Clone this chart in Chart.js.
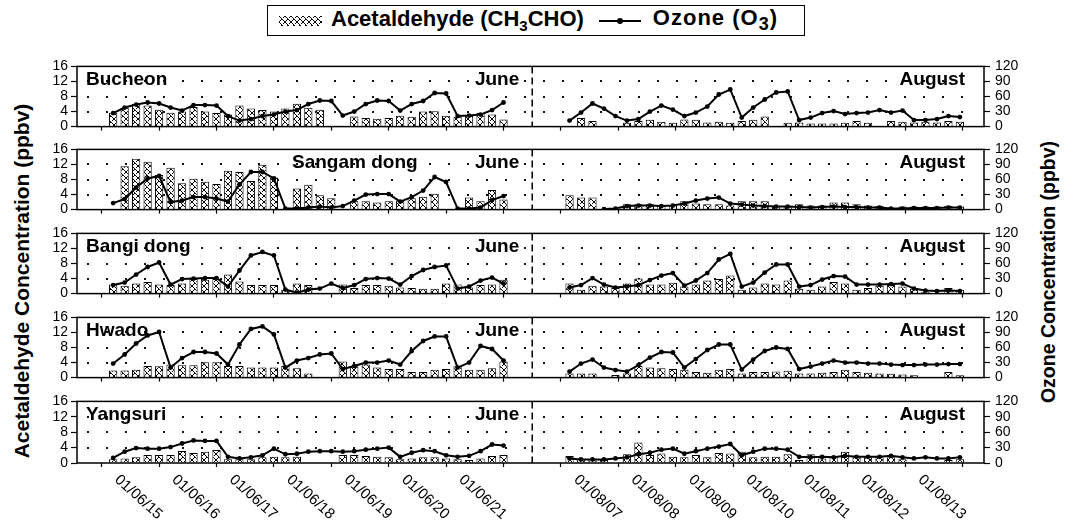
<!DOCTYPE html>
<html lang="en">
<head>
<meta charset="UTF-8">
<title>Acetaldehyde and Ozone</title>
<script src="https://cdn.jsdelivr.net/npm/chart.js"></script>
<style>
  body { margin: 0; width: 1070px; height: 526px; background: #fff; position: relative; overflow: hidden;
         font-family: Arial, "Liberation Sans", sans-serif; color: #000; }
  canvas.panel { position: absolute; left: 0; }
  #legend { position: absolute; left: 267px; top: 5px; width: 538px; height: 31px; border: 1.5px solid #000;
            box-sizing: border-box; display: flex; align-items: center; font-weight: bold; font-size: 22px; white-space: nowrap; }
  #legend sub { font-size: 15px; }
  #acetSwatch { margin-left: 11px; width: 43px; height: 10px; }
  #acetText { margin-left: 9px; }
  #o3Swatch { margin-left: 15px; width: 42px; height: 2px; background: #000; position: relative; }
  #o3Swatch::after { content: ""; position: absolute; left: 18px; top: -2px; width: 6px; height: 6px; border-radius: 50%; background: #000; }
  #o3Text { margin-left: 12px; letter-spacing: 1px; }
  #o3Text sub { font-size: 18px; }
  .ytitle { position: absolute; white-space: nowrap; font-weight: bold; transform: translate(-50%, -50%) rotate(-90deg); }
  #leftTitle { left: 22px; top: 281px; font-size: 21px; }
  #rightTitle { left: 1048px; top: 272px; font-size: 19.5px; }
</style>
</head>
<body>
  <div id="legend">
    <canvas id="acetSwatch" width="43" height="10"></canvas>
    <span id="acetText">Acetaldehyde (CH<sub>3</sub>CHO)</span>
    <span id="o3Swatch"></span>
    <span id="o3Text">Ozone (O<sub>3</sub>)</span>
  </div>
  <div class="ytitle" id="leftTitle">Acetaldehyde Concentration (ppbv)</div>
  <div class="ytitle" id="rightTitle">Ozone Concentration (ppbv)</div>

  <script>
    // date labels under the bottom panel
    const juneLabels = ['01/06/15', '01/06/16', '01/06/17', '01/06/18', '01/06/19', '01/06/20', '01/06/21'];
    const augLabels = ['01/08/07', '01/08/08', '01/08/09', '01/08/10', '01/08/11', '01/08/12', '01/08/13'];
    const stations = ['Bucheon', 'Sangam dong', 'Bangi dong', 'Hwado', 'Yangsuri'];

    // five samples a day; times in days after the first date of each campaign
    const sampleStep = 0.2;
    const juneFirst = 0.2;
    const augFirst = 0.15;

    // acetaldehyde (ppbv) and ozone (ppbv)
    const bucheonAcetJune = [3.7,5.0,6.1,5.6,4.5, 3.7,4.0,5.2,4.0,3.6, 3.2,5.6,4.8,4.4,4.0, 4.8,6.1,5.0,4.5,null, null,2.7,2.3,2.1,2.3, 2.9,2.6,4.0,4.1,2.9, 2.6,2.9,3.6,3.2,1.9];
    const bucheonO3June = [27,38,44,48,46, 38,32,43,43,42, 21,12,15,21,24, 30,33,45,52,51, 22,30,45,52,51, 32,45,51,67,66, 21,22,24,33,48];
    const bucheonAcetAug = [null,2.3,1.5,null,null, 1.0,1.5,1.8,1.3,1.0, 1.9,1.8,1.1,1.3,1.0, 1.5,1.8,2.7,null,1.0, 1.1,0.8,0.8,0.8,1.0, 1.5,1.0,null,1.5,1.3, 1.1,1.3,1.1,1.5,1.3];
    const bucheonO3Aug = [12,28,46,36,21, 12,15,30,42,34, 21,28,40,64,74, 18,38,54,68,70, 13,18,27,31,25, 27,28,33,28,32, 13,13,15,21,19];

    const sangamAcetJune = [null,11.5,13.5,12.7,9.2, 11.1,7.0,8.2,7.4,6.8, 10.3,10.0,7.6,11.9,8.5, null,5.6,6.6,3.8,3.0, null,2.2,2.2,1.9,2.2, 2.4,3.0,3.4,4.2,null, null,3.2,2.2,5.2,2.7];
    const sangamO3June = [13,21,44,62,67, 15,18,25,25,22, 16,50,75,75,62, 2,2,4,6,4, 7,18,30,31,31, 16,25,38,65,55, 2,2,4,19,27];
    const sangamAcetAug = [3.8,3.2,3.2,null,null, 1.4,1.4,1.4,1.1,1.1, 2.2,1.6,1.4,1.4,1.1, 2.2,2.2,2.2,1.0,0.8, 1.4,1.1,1.1,1.9,1.9, 1.4,1.1,1.0,null,0.8, 0.8,0.8,0.8,1.0,0.8];
    const sangamO3Aug = [null,null,null,1,2, 7,8,8,7,8, 12,18,22,24,12, 10,8,7,6,6, 5,4,5,6,5, 5,4,4,2,2, 3,3,3,4,4];

    const bangiAcetJune = [2.4,2.1,2.7,3.1,2.4, 2.3,2.7,3.9,3.7,3.9, 5.1,3.2,2.3,2.3,2.3, 1.0,2.7,2.3,null,null, 2.4,1.5,2.3,2.3,2.1, 1.6,1.5,1.3,1.3,2.7, 2.4,1.6,2.3,2.4,3.7];
    const bangiO3June = [17,22,38,53,62, 18,29,30,31,31, 14,46,76,83,76, 8,2,8,10,20, 11,17,29,31,30, 18,35,47,53,56, 10,14,26,32,20];
    const bangiAcetAug = [2.7,1.0,2.1,1.9,1.5, 2.7,4.0,2.4,2.4,2.9, 1.9,2.4,3.5,3.9,4.8, 1.0,1.6,2.7,2.4,3.5, 1.3,1.0,1.9,3.1,2.7, 1.0,1.5,2.1,2.3,1.9, 1.3,0.5,null,1.5,1.0];
    const bangiO3Aug = [12,17,31,18,12, 14,17,27,36,41, 16,26,41,68,79, 14,22,42,58,58, 14,17,28,35,34, 18,18,18,19,20, 10,6,5,6,5];

    const hwadoAcetJune = [1.9,1.9,2.1,3.1,3.0, 3.5,3.3,3.3,4.1,4.1, 3.1,3.1,2.7,2.7,2.7, 3.1,2.5,1.1,null,null, 4.3,3.0,3.5,2.7,2.3, 2.3,1.5,1.5,2.1,2.3, 3.0,2.1,2.1,2.5,4.3];
    const hwadoO3June = [28,46,68,84,91, 20,39,51,51,48, 26,66,97,102,86, 20,34,39,46,48, 17,23,30,30,34, 26,53,73,82,82, 20,30,63,57,34];
    const hwadoAcetAug = [1.1,1.1,1.1,null,0.7, 1.1,3.1,2.7,2.5,2.3, 2.1,1.5,1.3,2.1,2.3, 1.1,1.5,1.5,1.6,1.8, 1.1,1.1,1.3,1.5,2.1, 1.5,1.3,1.1,1.0,0.8, 0.6,null,null,1.5,0.6];
    const hwadoO3Aug = [12,28,36,20,15, 12,25,40,51,50, 20,37,55,66,66, 16,36,53,60,57, 17,22,28,34,30, 30,28,28,26,25, 25,26,26,27,27];

    const yangsuriAcetJune = [1.0,1.2,1.5,2.1,2.1, 2.1,3.1,2.6,2.9,3.4, 1.0,1.0,1.0,1.5,1.6, 1.5,1.6,null,null,null, 2.1,2.1,1.8,1.6,1.5, 1.0,1.2,1.5,1.5,1.2, 1.0,0.8,1.2,1.8,2.1];
    const yangsuriO3June = [10,22,29,28,28, 31,38,44,43,43, 12,9,11,15,28, 17,18,22,23,23, 22,23,26,28,30, 12,20,25,23,15, 12,14,23,36,34];
    const yangsuriAcetAug = [1.8,1.0,1.0,0.8,null, 2.3,5.3,2.1,2.5,1.6, 1.5,2.1,1.5,2.6,2.5, 2.9,1.5,1.6,1.6,2.3, 0.8,2.3,1.2,1.6,2.9, 1.5,1.5,1.5,1.5,1.0, null,null,null,0.8,1.0];
    const yangsuriO3Aug = [9,7,7,7,9, 11,17,20,26,28, 18,23,28,32,37, 15,22,28,28,26, 12,11,12,11,14, 12,12,12,14,11, 9,11,9,9,11];

    const acetJune = [bucheonAcetJune, sangamAcetJune, bangiAcetJune, hwadoAcetJune, yangsuriAcetJune];
    const o3June = [bucheonO3June, sangamO3June, bangiO3June, hwadoO3June, yangsuriO3June];
    const acetAug = [bucheonAcetAug, sangamAcetAug, bangiAcetAug, hwadoAcetAug, yangsuriAcetAug];
    const o3Aug = [bucheonO3Aug, sangamO3Aug, bangiO3Aug, hwadoO3Aug, yangsuriO3Aug];

    // axis: June days at 0..7, one empty day, August days at 8..15
    const augBase = 8;
    const dayTicks = [0, 1, 2, 3, 4, 5, 6, 7, 8, 9, 10, 11, 12, 13, 14, 15];
    const divider = 7.5;

    // page layout
    const FONT = 'Arial, "Liberation Sans", sans-serif';
    const plotTops = [62, 145, 229, 313, 397];
    const plotH = 66;
    const padTop = 9;
    const xAxisH = 12;
    const nameX = [null, 292, null, null, null];

    function toPoints(values, base, first) {
      return values.map((v, i) => ({ x: base + first + sampleStep * i, y: v }));
    }

    // dotted fill for the acetaldehyde bars
    const tile = document.createElement('canvas');
    tile.width = 6; tile.height = 6;
    const tctx = tile.getContext('2d');
    tctx.fillStyle = '#fff';
    tctx.fillRect(0, 0, 6, 6);
    tctx.fillStyle = '#000';
    [[0,0],[1,1],[2,2],[3,3],[4,4],[5,5],[5,0],[4,1],[2,3],[1,4],[0,5]].forEach(([a, b]) => tctx.fillRect(a, b, 1, 1));
    const hatch = tctx.createPattern(tile, 'repeat');

    const sw = document.getElementById('acetSwatch').getContext('2d');
    sw.fillStyle = hatch;
    sw.fillRect(0, 0, 43, 10);

    const framePlugin = {
      id: 'frame',
      beforeDatasetsDraw(chart) {
        // sparse dotted rows at 4, 8 and 12 ppbv
        const { ctx, chartArea: a } = chart;
        const y = chart.scales.y;
        ctx.save();
        ctx.fillStyle = '#111';
        y.ticks.forEach(t => {
          if (t.value === y.min || t.value === y.max) return;
          const py = Math.round(y.getPixelForValue(t.value)) - 1;
          for (let px = a.left + 10; px < a.right - 4; px += 19) ctx.fillRect(Math.round(px), py, 2, 2);
        });
        ctx.restore();
      },
      afterDraw(chart, args, opts) {
        const { ctx, chartArea: a } = chart;
        const x = chart.scales.x;
        const xd = x.getPixelForValue(divider);
        ctx.save();
        ctx.strokeStyle = '#000';
        ctx.lineWidth = 1.5;
        ctx.setLineDash([7, 4]);
        ctx.beginPath();
        ctx.moveTo(xd, a.top);
        ctx.lineTo(xd, a.bottom);
        ctx.stroke();
        ctx.setLineDash([]);
        ctx.strokeRect(a.left, a.top, a.right - a.left, a.bottom - a.top);

        ctx.fillStyle = '#000';
        ctx.font = 'bold 19px ' + FONT;
        ctx.textBaseline = 'alphabetic';
        ctx.textAlign = 'left';
        ctx.fillText(opts.name, opts.nameX != null ? opts.nameX : a.left + 9, a.top + 19);
        ctx.textAlign = 'right';
        ctx.fillText('June', xd - 13, a.top + 19);
        ctx.fillText('August', a.right - 19, a.top + 19);

        if (opts.dates) {
          ctx.font = '15px ' + FONT;
          ctx.textAlign = 'left';
          ctx.textBaseline = 'top';
          const labels = juneLabels.map((t, i) => [t, i]).concat(augLabels.map((t, i) => [t, augBase + i]));
          labels.forEach(([t, v]) => {
            ctx.save();
            ctx.translate(x.getPixelForValue(v) + 20, a.bottom + 9);
            ctx.rotate(42 * Math.PI / 180);
            ctx.fillText(t, 0, 0);
            ctx.restore();
          });
        }
        ctx.restore();
      }
    };

    stations.forEach((name, k) => {
      const last = k === stations.length - 1;
      const canvas = document.createElement('canvas');
      canvas.className = 'panel';
      const h = last ? 526 - (plotTops[k] - padTop) : padTop + plotH + xAxisH;
      canvas.width = 1070;
      canvas.height = h;
      canvas.style.top = (plotTops[k] - padTop) + 'px';
      canvas.style.width = '1070px';
      canvas.style.height = h + 'px';
      document.body.appendChild(canvas);

      const o3Points = toPoints(o3June[k], 0, juneFirst)
        .concat([{ x: divider, y: null }])
        .concat(toPoints(o3Aug[k], augBase, augFirst));
      const acetPoints = toPoints(acetJune[k], 0, juneFirst).concat(toPoints(acetAug[k], augBase, augFirst));

      new Chart(canvas, {
        type: 'bar',
        data: {
          datasets: [
            {
              type: 'line',
              label: 'Ozone (O3)',
              data: o3Points,
              yAxisID: 'y2',
              borderColor: '#000',
              borderWidth: 2,
              backgroundColor: '#000',
              pointRadius: 2.4,
              pointBorderWidth: 0,
              pointHoverRadius: 0,
              tension: 0,
              spanGaps: false,
              order: 0
            },
            {
              type: 'bar',
              label: 'Acetaldehyde (CH3CHO)',
              data: acetPoints,
              yAxisID: 'y',
              backgroundColor: hatch,
              borderColor: '#000',
              borderWidth: 1,
              barPercentage: 0.72,
              categoryPercentage: 1,
              order: 1
            }
          ]
        },
        options: {
          responsive: false,
          animation: false,
          events: [],
          layout: { padding: { top: padTop, bottom: last ? h - padTop - plotH - xAxisH : 0, left: 0, right: 0 } },
          plugins: {
            legend: { display: false },
            tooltip: { enabled: false },
            frame: { name: name, nameX: nameX[k], dates: last }
          },
          scales: {
            x: {
              type: 'linear',
              offset: false,
              min: -0.43,
              max: 15.37,
              afterBuildTicks: s => { s.ticks = dayTicks.map(v => ({ value: v })); },
              afterFit: s => { s.height = xAxisH; },
              ticks: { display: false },
              grid: { offset: false, drawOnChartArea: false, tickLength: 4, tickColor: '#000', tickWidth: 1.2 },
              border: { display: false }
            },
            y: {
              position: 'left',
              min: 0,
              max: 16,
              afterFit: s => { s.width = 77; },
              ticks: { stepSize: 4, autoSkip: false, color: '#000', padding: 3, font: { size: 14, family: FONT } },
              grid: { drawOnChartArea: false, tickLength: 6, tickColor: '#000', tickWidth: 1.2 },
              border: { display: false }
            },
            y2: {
              position: 'right',
              min: 0,
              max: 120,
              afterFit: s => { s.width = 86; },
              ticks: { stepSize: 30, autoSkip: false, color: '#000', padding: 5, font: { size: 14, family: FONT } },
              grid: { drawOnChartArea: false, tickLength: 6, tickColor: '#000', tickWidth: 1.2 },
              border: { display: false }
            }
          }
        },
        plugins: [framePlugin]
      });
    });
  </script>
</body>
</html>
